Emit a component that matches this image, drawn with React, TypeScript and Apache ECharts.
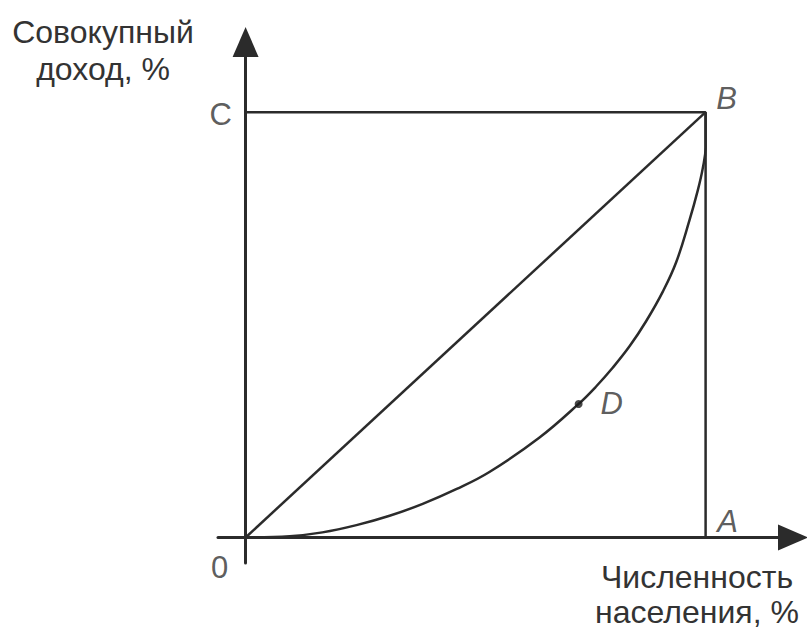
import React, { useEffect, useRef } from "react";
import * as echarts from "echarts";

// Lorenz curve points (population %, income %)
const curveX = [0, 9.6, 16.7, 24.1, 31.3, 38.5, 45.9, 53.0, 63.9, 72.4, 76.2, 79.8, 83.5, 87.1, 90.7, 93.6, 96.5, 98.3, 99.4, 100, 100];
const curveY = [0, 0.3, 1.2, 2.9, 5.1, 7.9, 11.4, 15.4, 23.5, 31.4, 35.5, 39.9, 45.0, 50.9, 57.8, 64.7, 74.6, 81.6, 86.9, 91.7, 100];

// Square frame (C -> B -> A) and equality line (0 -> B)
const frameX = [0, 100, 100];
const frameY = [100, 100, 0];
const equalityX = [0, 100];
const equalityY = [0, 100];

// Named points
const pointNames = ["0", "C", "B", "A", "D"];
const pointX = [0, 0, 100, 100, 72.4];
const pointY = [0, 100, 100, 0, 31.4];

const yAxisTitle = "Совокупный\nдоход, %";
const xAxisTitle = "Численность\nнаселения, %";

const INK = "#2b2b2b";
const FONT = "'Liberation Sans', Arial, sans-serif";

const labelOffsets: Record<string, [number, number]> = {
  "0": [-26, 30],
  C: [-25, 2],
  B: [21, -14],
  A: [22, -16],
  D: [33, 0],
};

export default function App() {
  const ref = useRef<HTMLDivElement>(null);

  useEffect(() => {
    if (!ref.current) return;
    const chart = echarts.init(ref.current, null, { renderer: "svg" });

    const zip = (xs: number[], ys: number[]) => xs.map((x, i) => [x, ys[i]]);

    const axisCommon = {
      type: "value" as const,
      axisLine: {
        show: true,
        onZero: true,
        symbol: ["none", "triangle"],
        symbolSize: [26, 30],
        lineStyle: { color: INK, width: 3 },
      },
      axisTick: { show: false },
      axisLabel: { show: false },
      splitLine: { show: false },
    };

    chart.setOption({
      animation: false,
      backgroundColor: "#ffffff",
      grid: { left: 218, top: 42, width: 575, height: 521, containLabel: false },
      xAxis: { ...axisCommon, min: -6, max: 119 },
      yAxis: { ...axisCommon, min: -6, max: 116.5 },
      series: [
        {
          type: "line",
          data: zip(frameX, frameY),
          showSymbol: false,
          lineStyle: { color: INK, width: 2.5 },
        },
        {
          type: "line",
          data: zip(equalityX, equalityY),
          showSymbol: false,
          lineStyle: { color: INK, width: 2.5 },
        },
        {
          type: "line",
          data: zip(curveX, curveY),
          showSymbol: false,
          smooth: 0.4,
          lineStyle: { color: INK, width: 2.5 },
        },
        {
          type: "scatter",
          data: pointNames.map((n, i) => ({
            name: n,
            value: [pointX[i], pointY[i]],
            symbolSize: n === "D" ? 8 : 1,
            itemStyle: { color: n === "D" ? "#1a1a1a" : "rgba(0,0,0,0)" },
            label: {
              show: true,
              formatter: n,
              position: "inside",
              offset: labelOffsets[n],
              align: "center",
              verticalAlign: "middle",
              fontFamily: FONT,
              fontSize: 31,
              fontStyle: n === "B" || n === "A" || n === "D" ? "italic" : "normal",
              color: "#333",
            },
          })),
          z: 5,
        },
      ],
      graphic: [
        {
          type: "text",
          style: {
            x: 103,
            y: 50,
            text: yAxisTitle,
            align: "center",
            verticalAlign: "middle",
            fontFamily: FONT,
            fontSize: 32,
            lineHeight: 37,
            fill: "#333",
          },
        },
        {
          type: "text",
          style: {
            x: 697,
            y: 594,
            text: xAxisTitle,
            align: "center",
            verticalAlign: "middle",
            fontFamily: FONT,
            fontSize: 32,
            lineHeight: 35,
            fill: "#333",
          },
        },
      ],
    });

    return () => chart.dispose();
  }, []);

  return (
    <div
      ref={ref}
      style={{ position: "fixed", left: 0, top: 0, width: 807, height: 628, background: "#fff" }}
    />
  );
}
